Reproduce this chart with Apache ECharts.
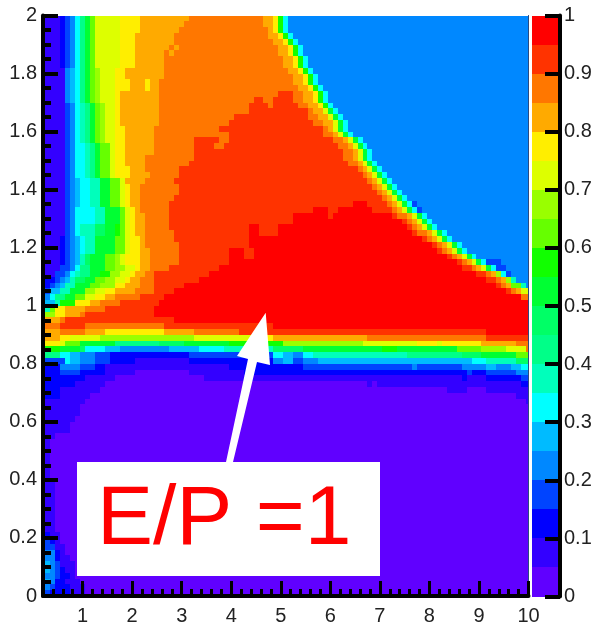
<!DOCTYPE html>
<html>
<head>
<meta charset="utf-8">
<style>html,body{margin:0;padding:0;background:#fff}#c{width:595px;height:626px;filter:blur(0.6px)}</style>
<script src="https://cdn.jsdelivr.net/npm/echarts@6/dist/echarts.min.js"></script>
</head>
<body>
<div id="c"></div>
<script>
const palette = ['#6000ff','#3300ff','#0000ff','#0044ff','#0088ff','#00bbff','#00ffff','#00ffbb','#00ff88','#00ff66','#00ff33','#11ff00','#66ff00','#99ff00','#ddff00','#ffee00','#ffaa00','#ff7700','#ff3300','#ff0000'];
const xMajorTicks = [1,2,3,4,5,6,7,8,9,10];
const xMinorTicks = [0.2,0.4,0.6,0.8,1.2,1.4,1.6,1.8,2.2,2.4,2.6,2.8,3.2,3.4,3.6,3.8,4.2,4.4,4.6,4.8,5.2,5.4,5.6,5.8,6.2,6.4,6.6,6.8,7.2,7.4,7.6,7.8,8.2,8.4,8.6,8.8,9.2,9.4,9.6,9.8];
const cellWidth = 0.1, cellHeight = 0.02, xStart = 0.25;
const annotationText = 'E/P =1';
// one line per row, top (y=2) to bottom (y=0). Token: level letter a..t + column where that run ends
const rowRuns = [
"b3 c4 d5 e6 g7 i8 k9 m10 o15 p19 q29 r44 q46 p47 l48 g49 e98",
"b3 c4 d5 e6 g7 i8 k9 m10 o15 p19 q28 r44 q46 p47 l48 g49 e98",
"b3 c4 d5 e6 g7 i8 k9 m10 o15 p19 q27 r45 q46 p47 l48 g49 e98",
"b3 c4 d5 e6 g7 i8 k9 m10 o15 p18 q26 r45 q47 p48 l49 g50 e98",
"b3 c4 d5 e6 g7 i8 k9 m10 o15 p18 q26 r46 q48 p49 l50 g51 e98",
"b3 c4 d5 e6 g7 i8 k9 m10 o15 p18 q25 r26 q27 r47 q49 p50 l51 g52 e98",
"b3 c4 d5 e6 g7 i8 k9 m10 o15 p18 q24 r25 q26 r47 q49 p50 l51 g52 e98",
"b3 c4 d5 e6 g7 i8 k9 m10 o15 p18 q24 r48 q50 p51 l52 g53 e98",
"b3 c4 d5 e6 g7 i8 k9 m10 o15 p18 q24 r48 q50 p51 l52 g53 e98",
"b4 e5 f6 g7 i8 k9 m10 n11 o14 p16 q24 r49 q51 p52 l53 g54 e98",
"b4 e5 f6 g7 i8 k9 m10 n11 o14 p16 q24 r50 q52 p53 l54 g55 e98",
"b4 e5 f6 g7 i8 k9 m10 n11 o14 p17 q20 p21 q23 r50 q52 p53 l54 g55 e98",
"b4 e5 f6 g7 i8 k9 m10 n11 o14 p17 q20 p21 q23 r51 q53 p54 l55 g56 e98",
"b4 e5 f6 g7 i8 k9 m10 n11 o14 p15 q23 r47 s50 r52 q54 p55 l56 g57 e98",
"b4 e5 f6 g7 i8 k9 m10 n11 o14 p15 q23 r42 s44 r46 s50 r52 q54 p55 l56 g57 e98",
"b4 d5 e6 g7 h8 i9 k10 m11 n12 o14 p15 q23 r41 s45 r46 s51 r53 q55 p56 l57 g58 e98",
"b4 d5 e6 g7 h8 i9 k10 m11 n12 o14 p15 q23 r41 s53 r54 q56 o57 k58 g59 e98",
"b4 d5 e6 g7 h8 i9 k10 m11 n12 o14 p15 q23 r38 s53 r55 q57 o58 k59 g60 e98",
"b4 d5 e6 g7 h8 i9 k10 m11 n12 o14 p15 q23 r37 s54 r56 q58 o59 k60 g61 e98",
"b4 d5 e6 g7 h8 i9 k10 m11 n12 o14 p16 q22 r35 s56 r57 q58 o59 k60 g61 e98",
"b4 d5 e6 g7 h8 i9 k10 m11 n12 o14 p16 q22 r37 s56 r58 q59 o60 k61 g62 e98",
"b4 d5 e6 g7 h8 i9 k10 m11 n12 o14 p16 q22 r30 s35 r37 s58 r60 q61 o62 k63 g64 e98",
"b4 d5 e6 g8 h9 i10 k11 m13 o14 p16 q22 r30 s34 r36 s59 r61 q62 o63 k64 g65 e98",
"b4 d5 e6 g8 h9 i10 k11 m13 o14 p16 q22 r30 s60 r62 q63 o64 k65 g66 e98",
"b4 d5 e6 g8 h9 i10 k11 m13 o14 p16 q20 r30 s60 r62 q63 o64 k65 g66 e98",
"b4 d5 e6 g8 h9 i10 k11 m13 o14 p16 q20 r29 s61 r63 q64 o65 k66 g67 e98",
"b4 d5 e6 g8 h9 i10 k11 m13 o14 p17 q20 r27 s63 r64 q65 o66 k67 g68 e98",
"b4 d5 e6 g8 h9 i10 k11 m13 o14 p17 q21 r27 s64 r65 q66 o67 k68 g69 e98",
"b4 d5 e6 f7 g9 h11 k13 m15 o16 q20 r26 s65 r66 q67 o68 k69 g70 e98",
"b4 d5 e6 f7 g9 h11 k13 m15 o16 p17 q19 r27 s66 r67 q68 o69 k70 g71 e98",
"b4 d5 e6 f7 g9 h11 k13 m15 o16 p17 q19 r27 s67 r68 q69 o70 k71 g72 e98",
"b4 d5 e6 f7 g9 h11 k13 m15 o16 p17 q19 r26 s68 r69 q70 o71 k72 g73 e98",
"b4 d5 e6 f7 g9 h11 k13 m15 o16 p17 q19 r25 s62 t65 s69 r70 q71 o72 k73 g74 d75 e98",
"b4 d5 e6 g10 h12 k15 m16 o17 p18 q19 r25 s54 t57 s59 t66 s70 r71 q72 o73 k74 g75 d76 e98",
"b4 d5 e6 g10 h12 k15 m16 o17 p18 q20 r25 s50 t57 s58 t70 s71 r73 q74 o75 k76 g77 e98",
"b4 d5 e6 g10 h12 k15 m16 o17 p18 q20 r25 s50 t72 s73 r74 q75 o76 k77 g78 e98",
"b4 d5 e6 g7 h10 j12 k14 l15 m16 o17 p18 q20 r25 s41 t43 s47 t73 s74 r75 q76 o77 k78 g79 e98",
"b4 d5 e6 g7 h10 j12 k14 l15 m16 o17 p18 q20 r26 s41 t43 s47 t74 s75 r77 q78 o79 k80 g81 e98",
"b3 c4 d5 e6 f7 g8 h10 k14 m16 o17 p19 q20 r26 s41 t76 s77 r78 q79 o80 k81 g82 e98",
"b3 c4 d5 e6 f7 g8 h10 k14 m16 o17 p19 q20 r27 s41 t78 s79 r80 q81 o82 k83 g84 e98",
"b3 c4 d5 e6 f7 g8 h10 k14 m16 o17 p19 q21 r27 s37 t40 s42 t79 s80 r81 q82 o83 k84 g85 e98",
"b3 c4 d5 e6 f7 h8 j9 k12 m14 n15 o16 p19 q21 r27 s37 t40 s42 t81 s82 r83 q84 o85 k86 g87 e98",
"b3 c4 d5 e6 f7 h8 j9 k12 m14 n15 o16 p19 q21 r27 s37 t83 s84 r85 q86 o87 k88 g89 d92 e98",
"b3 d5 e6 g7 i9 k12 m14 n16 o18 p19 q21 r25 s35 t84 s86 r87 q88 o89 k90 g91 d93 e98",
"b2 d4 e5 g6 h7 i9 k11 l13 n15 o17 p18 q20 r22 s33 t87 s89 r90 q91 n92 g93 d94 e98",
"c2 d3 e4 f5 h6 j8 k10 m12 n14 o16 p17 q19 r22 s31 t89 s91 r92 q93 n94 h95 e98",
"c1 d2 e3 f4 h6 k9 m11 n14 p16 q19 r22 s28 t91 s92 r93 q94 m96 h97 e98",
"d1 f3 h5 k8 n10 o12 p14 q18 r22 s26 t93 s94 r95 q96 o98",
"e1 g2 i4 k6 m8 o10 p12 q14 r19 s24 t96 r98",
"f2 h3 l6 p9 q11 r15 s23 t98",
"h1 m2 p4 q8 r12 s22 t98",
"n2 p4 q7 r8 s22 t98",
"q3 r4 s26 t98",
"r3 s8 r24 s46 t98",
"q3 r8 q12 p24 q30 r39 s89 t98",
"q3 p5 o11 n30 o42 p46 q65 r89 s98",
"p3 o4 m7 k14 i23 j28 k37 l48 n64 o75 p79 o80 p88 q95 r98",
"l3 k7 j8 g12 f15 e25 f31 g36 h46 j52 k68 l71 k83 m88 n93 o97 r98",
"i3 g5 f7 e10 d13 c29 d46 g48 f50 e52 g54 h73 i84 j88 k95 m98",
"d4 g5 f7 e10 d13 c18 b29 c46 e48 f50 d52 e55 f86 g89 h95 j98",
"c3 e7 d10 c12 b37 c52 d74 e75 d84 e89 f91 e94 f96 g98",
"c3 d7 c12 b18 a29 b40 c85 d86 c89 d95 e98",
"c8 b14 a32 b84 c85 b89 c96 d98",
"c6 b12 a65 b66 a67 b96 c98",
"c3 b11 a81 b85 a89 b98",
"c3 b9 a95 b98",
"b8 a97 b98",
"b7 a98",
"b7 a98",
"b6 a98",
"b5 a98",
"b5 a98",
"b2 a98",
"b1 a98","b1 a98","b1 a98","b1 a98","b1 a98","b1 a98","b1 a98",
"b2 a98","b2 a98","b2 a98","b2 a98","b2 a98","b2 a98","b2 a98","b2 a98","b2 a98",
"c1 b3 a98",
"d1 c2 b3 a98",
"d2 b4 a98",
"e2 c3 b4 a98",
"e2 c3 b5 a98",
"f1 e2 d3 b6 a98",
"f1 e2 d3 c4 b6 a98",
"e2 d3 c5 b6 a98",
"f1 e2 c4 b7 a98",
"e1 d2 c5 b8 a98",
"d1 c5 b8 a98"
];
const colorbarLevels = palette.map((_, i) => i);

const cells = [];
rowRuns.forEach((row, r) => {
  let col = 0;
  row.split(' ').forEach(tok => {
    const lvl = tok.charCodeAt(0) - 97, end = +tok.slice(1);
    for (; col < end; col++) {
      cells.push([xStart + col * cellWidth, (rowRuns.length - 1 - r) * cellHeight, lvl]);
    }
  });
});
const colorCells = colorbarLevels.map(l => [0, l * 0.05, l]);

function cellRenderer(w, h, firstX, leftPad) {
  return function (params, api) {
    const x = api.value(0), y = api.value(1);
    const a = api.coord([x === firstX ? x - leftPad : x, y + h]), b = api.coord([x + w, y]);
    const x0 = Math.round(a[0]), y0 = Math.round(a[1]);
    return {
      type: 'rect',
      shape: { x: x0, y: y0, width: Math.round(b[0]) - x0, height: Math.round(b[1]) - y0 },
      style: { fill: palette[api.value(2)] }
    };
  };
}

const textStyle = { color: '#222', fontFamily: 'Liberation Sans', fontSize: 20 };
const chart = echarts.init(document.getElementById('c'), null, { renderer: 'canvas' });
chart.setOption({
  animation: false,
  backgroundColor: '#fff',
  grid: [
    { left: 43, top: 15.5, width: 485.5, height: 581, show: false },
    { left: 532, top: 15.5, width: 26, height: 581, show: false }
  ],
  xAxis: [
    { type: 'value', gridIndex: 0, min: 0.2, max: 10, z: 10, position: 'bottom',
      splitLine: { show: false },
      axisLine: { show: true, onZero: false, lineStyle: { color: '#000', width: 4 } },
      axisTick: { show: true, inside: true, length: 15, lineStyle: { color: '#000', width: 3 }, customValues: xMajorTicks },
      axisLabel: { ...textStyle, margin: 10, customValues: xMajorTicks, showMinLabel: true, showMaxLabel: true, hideOverlap: false } },
    { type: 'value', gridIndex: 0, min: 0.2, max: 10, z: 10, position: 'bottom',
      splitLine: { show: false },
      axisLine: { show: false },
      axisTick: { show: true, inside: true, length: 7, lineStyle: { color: '#000', width: 3 }, customValues: xMinorTicks },
      axisLabel: { show: false } },
    { type: 'value', gridIndex: 1, min: 0, max: 1, show: false }
  ],
  yAxis: [
    { type: 'value', gridIndex: 0, min: 0, max: 2, interval: 0.2, z: 10, position: 'left',
      splitLine: { show: false },
      axisLine: { show: true, onZero: false, lineStyle: { color: '#000', width: 4 } },
      axisTick: { show: true, inside: true, length: 15, lineStyle: { color: '#000', width: 4 } },
      minorTick: { show: true, splitNumber: 4, length: 8, lineStyle: { color: '#000', width: 4 } },
      axisLabel: { ...textStyle, margin: 6, padding: [3, 0, 0, 0] } },
    { type: 'value', gridIndex: 0, min: 0, max: 2, z: 10, position: 'right',
      splitLine: { show: false },
      axisLine: { show: true, onZero: false, lineStyle: { color: '#2a4a80', width: 1 } },
      axisTick: { show: false }, axisLabel: { show: false } },
    { type: 'value', gridIndex: 1, min: 0, max: 1, interval: 0.1, z: 10, position: 'right', offset: 2,
      splitLine: { show: false },
      axisLine: { show: true, onZero: false, lineStyle: { color: '#000', width: 4 } },
      axisTick: { show: true, inside: true, length: 15, lineStyle: { color: '#000', width: 4 } },
      axisLabel: { ...textStyle, margin: 4, padding: [3, 0, 0, 0] } }
  ],
  series: [
    { type: 'custom', xAxisIndex: 0, yAxisIndex: 0, data: cells, progressive: 0, clip: true,
      renderItem: cellRenderer(cellWidth, cellHeight, xStart, 0.05), encode: { x: 0, y: 1 } },
    { type: 'custom', xAxisIndex: 2, yAxisIndex: 2, data: colorCells, progressive: 0,
      renderItem: cellRenderer(1, 0.05, 0, 0), encode: { x: 0, y: 1 } }
  ],
  graphic: [
    { type: 'rect', z: 100, shape: { x: 77, y: 462, width: 303, height: 114 }, style: { fill: '#fff' } },
    { type: 'polygon', z: 100, shape: { points: [[226,462],[233,462],[257,362],[270,365],[265.7,312.7],[237,356],[248,359]] }, style: { fill: '#fff' } },
    { type: 'text', z: 101, style: { x: 97, y: 563, text: annotationText, fill: '#ff0000', font: '84px "Liberation Sans"', textVerticalAlign: 'bottom', verticalAlign: 'alphabetic' } }
  ]
});
</script>
</body>
</html>
